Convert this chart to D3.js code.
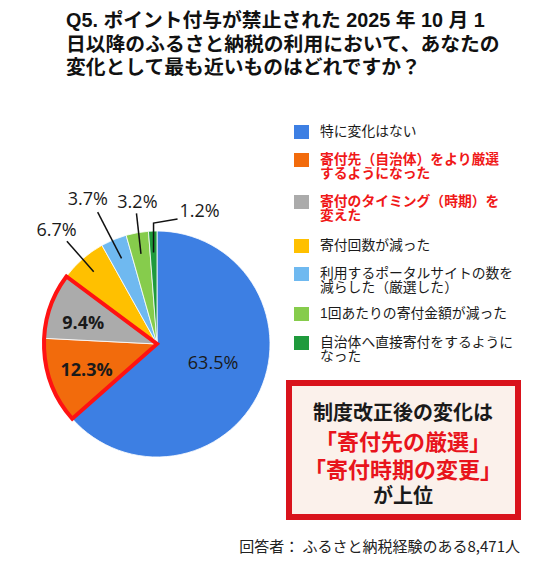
<!DOCTYPE html>
<html><head><meta charset="utf-8">
<script src="https://cdn.jsdelivr.net/npm/d3@7"></script>
<style>
html,body{margin:0;padding:0;background:#fff;}
svg{display:block;font-family:"Liberation Sans","Noto Sans CJK JP",sans-serif;}
</style></head>
<body><svg id="c" width="553" height="583"></svg>
<script>
const titleLines = ["Q5. ポイント付与が禁止された 2025 年 10 月 1","日以降のふるさと納税の利用において、あなたの","変化として最も近いものはどれですか？"];
const categories = [
  ["特に変化はない"],
  ["寄付先（自治体）をより厳選","するようになった"],
  ["寄付のタイミング（時期）を","変えた"],
  ["寄付回数が減った"],
  ["利用するポータルサイトの数を","減らした（厳選した）"],
  ["1回あたりの寄付金額が減った"],
  ["自治体へ直接寄付をするように","なった"]
];
const values = [63.5, 12.3, 9.4, 6.7, 3.7, 3.2, 1.2];
const colors = ["#3D7FE3","#F26B0C","#ABABAB","#FFC000","#6FB9F0","#86CC4C","#1F9A3C"];
const highlighted = [false, true, true, false, false, false, false];
const boxLines = ["制度改正後の変化は","「寄付先の厳選」","「寄付時期の変更」","が上位"];
const footnote = "回答者：  ふるさと納税経験のある8,471人";

const svg = d3.select("#c");

// Title
svg.append("g").selectAll("text").data(titleLines).join("text")
  .attr("x", 66).attr("y", (d,i)=>20 + i*23.5)
  .attr("dominant-baseline","central")
  .attr("font-size", 19.8).attr("font-weight","bold").attr("fill","#111")
  .text(d=>d);

// Pie
const cx = 157, cy = 344, R = 113;
const pie = d3.pie().sort(null).value(d=>d)
  .startAngle(0).endAngle(2*Math.PI);
const arcs = pie(values);
const arc = d3.arc().innerRadius(0).outerRadius(R);
const g = svg.append("g").attr("transform",`translate(${cx},${cy})`);
g.selectAll("path.slice").data(arcs).join("path")
  .attr("class","slice")
  .attr("d", arc)
  .attr("fill",(d,i)=>colors[i])
  .attr("stroke","#fff").attr("stroke-width",0.8);

// Red outline around highlighted group
const hl = arcs.filter((d,i)=>highlighted[i]);
const hlArc = d3.arc().innerRadius(0).outerRadius(R)
  .startAngle(d3.min(hl,d=>d.startAngle)).endAngle(d3.max(hl,d=>d.endAngle));
g.append("path").attr("d", hlArc())
  .attr("fill","none").attr("stroke","#FF1212").attr("stroke-width",4)
  .attr("stroke-linejoin","miter");

const polar = (a, r) => [r*Math.sin(a), -r*Math.cos(a)];
const mid = d => (d.startAngle + d.endAngle)/2;
const numFont = "'Open Sans','Noto Sans',sans-serif";

// Inside labels
const insideCfg = {0:{r:0.52, da:-0.12, bold:false}, 1:{r:0.66, da:0, bold:true}, 2:{r:0.68, da:-0.06, bold:true}};
Object.keys(insideCfg).forEach(k=>{
  const i = +k, c = insideCfg[k], d = arcs[i];
  const [x,y] = polar(mid(d)+c.da, c.r*R);
  g.append("text").attr("x",x).attr("y",y)
    .attr("text-anchor","middle").attr("dominant-baseline","central")
    .attr("font-size",18).attr("font-weight",c.bold?"bold":"normal")
    .attr("fill","#1a1a1a").attr("font-family",numFont)
    .text(values[i].toFixed(1)+"%");
});

// Outside labels with leaders
const outsideCfg = {
  3:{r0:0.85, r1:1.21, da:0, lr:1.35, lda:0},
  4:{r0:0.82, r1:1.28, da:-0.03, lr:1.43, lda:-0.05},
  5:{r0:0.81, r1:1.17, da:0.02, lr:1.28, lda:0.04}
};
Object.keys(outsideCfg).forEach(k=>{
  const i=+k, c=outsideCfg[k], d=arcs[i], a=mid(d);
  const p0 = polar(a, c.r0*R), p1 = polar(a+c.da, c.r1*R);
  g.append("line").attr("x1",p0[0]).attr("y1",p0[1]).attr("x2",p1[0]).attr("y2",p1[1])
    .attr("stroke","#111").attr("stroke-width",1.5);
  const [x,y] = polar(a+c.lda, c.lr*R);
  g.append("text").attr("x",x).attr("y",y)
    .attr("text-anchor","middle").attr("dominant-baseline","central")
    .attr("font-size",18).attr("fill","#1a1a1a").attr("font-family",numFont)
    .text(values[i].toFixed(1)+"%");
});
// last small slice: elbow leader
{
  const d = arcs[6], a = mid(d);
  const p0 = polar(a, 0.81*R);
  const p1 = [p0[0], -1.07*R];
  const p2 = [p0[0]+24, -1.07*R - 4];
  g.append("path").attr("d", d3.line()([p0,p1,p2]))
    .attr("fill","none").attr("stroke","#111").attr("stroke-width",1.5);
  g.append("text").attr("x",p2[0]+2).attr("y",p2[1]-9)
    .attr("dominant-baseline","central")
    .attr("font-size",18).attr("fill","#1a1a1a").attr("font-family",numFont)
    .text(values[6].toFixed(1)+"%");
}

// Legend
const legTop = [125, 153, 195, 239, 267, 307, 336];
const leg = svg.append("g");
categories.forEach((lines,i)=>{
  leg.append("rect").attr("x",294).attr("y",legTop[i]).attr("width",15).attr("height",14)
    .attr("fill",colors[i]);
  lines.forEach((ln,j)=>{
    leg.append("text").attr("x",320).attr("y",legTop[i]+6+j*14.5)
      .attr("font-size",13.8)
      .attr("fill", highlighted[i] ? "#F01818" : "#1a1a1a")
      .attr("font-weight", highlighted[i] ? "bold" : "normal")
      .attr("dominant-baseline","central").text(ln);
  });
});

// Callout box
svg.append("rect").attr("x",289).attr("y",383).attr("width",229).attr("height",134)
  .attr("fill","#FBF1EB").attr("stroke","#D9131C").attr("stroke-width",6);
const boxY = [413, 442, 470, 496];
const boxSize = [20, 22, 22, 20];
const boxColor = ["#1a1a1a","#E8141C","#E8141C","#1a1a1a"];
svg.append("g").selectAll("text").data(boxLines).join("text")
  .attr("x",403).attr("y",(d,i)=>boxY[i])
  .attr("text-anchor","middle").attr("dominant-baseline","central")
  .attr("font-size",(d,i)=>boxSize[i]).attr("font-weight","bold")
  .attr("fill",(d,i)=>boxColor[i]).text(d=>d);

// Footnote
svg.append("text").attr("x",520).attr("y",545).attr("text-anchor","end")
  .attr("dominant-baseline","central").attr("font-size",15).attr("fill","#222")
  .attr("font-family","'Noto Sans CJK JP',sans-serif")
  .text(footnote);
</script></body></html>
